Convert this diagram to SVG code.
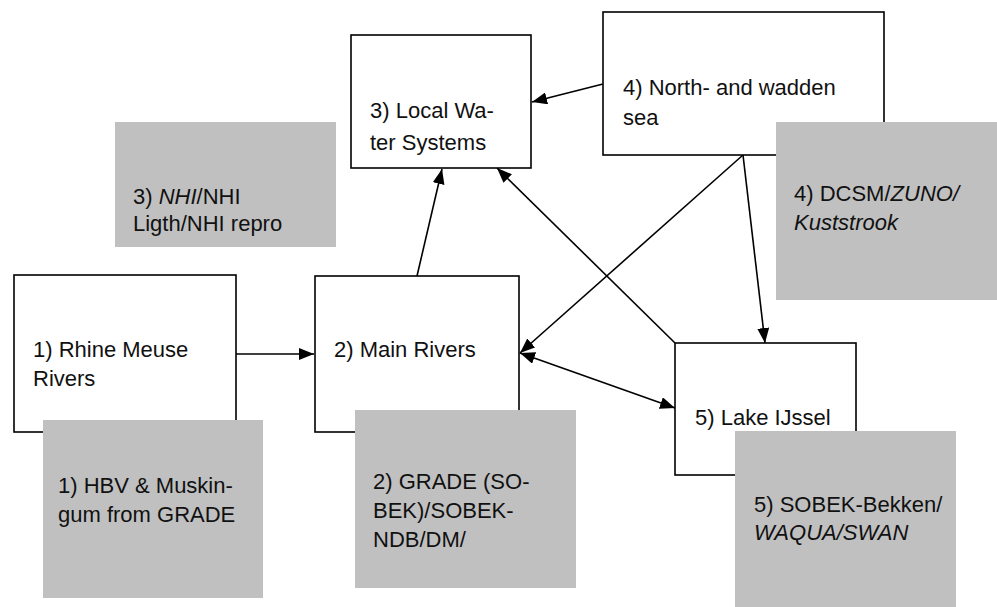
<svg xmlns="http://www.w3.org/2000/svg" width="997" height="607" viewBox="0 0 997 607">
<defs>
<style>
.box{fill:#ffffff;stroke:#000000;stroke-width:1.6}
.note{fill:#c0c0c0;stroke:none}
.t{font-family:"Liberation Sans",Arial,sans-serif;font-size:22px;fill:#111111}
.i{font-style:italic}
.c{fill:none;stroke:#000000;stroke-width:1.6}
</style>
<marker id="ah" markerUnits="userSpaceOnUse" markerWidth="16" markerHeight="12" viewBox="0 0 16 12" refX="15" refY="6" orient="auto-start-reverse">
<path d="M0,0 L15,6 L0,12 z" fill="#000000"/>
</marker>
</defs>
<rect width="997" height="607" fill="#ffffff"/>

<g id="connectors">
<path class="c" d="M236,354 L314,354" marker-end="url(#ah)"/>
<path class="c" d="M417,276 L442,169" marker-end="url(#ah)"/>
<path class="c" d="M603,84 L532,102" marker-end="url(#ah)"/>
<path class="c" d="M675,343 L497,168" marker-end="url(#ah)"/>
<path class="c" d="M743,155 L520,353" marker-end="url(#ah)"/>
<path class="c" d="M743,155 L765,343" marker-end="url(#ah)"/>
<path class="c" d="M520,353 L675,408" marker-start="url(#ah)" marker-end="url(#ah)"/>
</g>

<g id="node-local-water">
<rect class="box" x="351" y="35" width="180" height="133"/>
<text class="t" x="370" y="118">3) Local Wa-</text>
<text class="t" x="370" y="150">ter Systems</text>
</g>

<g id="node-north-sea">
<rect class="box" x="603" y="12" width="281" height="143"/>
<text class="t" x="623" y="95">4) North- and wadden</text>
<text class="t" x="623" y="125">sea</text>
</g>

<g id="node-rhine-meuse">
<rect class="box" x="14" y="275" width="222" height="157"/>
<text class="t" x="33" y="357">1) Rhine Meuse</text>
<text class="t" x="33" y="386">Rivers</text>
</g>

<g id="node-main-rivers">
<rect class="box" x="315" y="276" width="204" height="156"/>
<text class="t" x="334" y="357">2) Main Rivers</text>
</g>

<g id="node-lake-ijssel">
<rect class="box" x="675" y="343" width="181" height="132"/>
<text class="t" x="695" y="425">5) Lake IJssel</text>
</g>

<g id="note-nhi">
<rect class="note" x="115" y="122" width="221" height="125"/>
<text class="t" x="133" y="204">3) <tspan class="i">NHI</tspan>/NHI</text>
<text class="t" x="133" y="231">Ligth/NHI repro</text>
</g>

<g id="note-dcsm">
<rect class="note" x="776" y="122" width="221" height="178"/>
<text class="t" x="794" y="201">4) DCSM/<tspan class="i">ZUNO/</tspan></text>
<text class="t i" x="794" y="230">Kuststrook</text>
</g>

<g id="note-hbv">
<rect class="note" x="43" y="420" width="220" height="178"/>
<text class="t" x="58" y="493">1) HBV &amp; Muskin-</text>
<text class="t" x="58" y="522">gum from GRADE</text>
</g>

<g id="note-grade">
<rect class="note" x="355" y="410" width="221" height="178"/>
<text class="t" x="373" y="489">2) GRADE (SO-</text>
<text class="t" x="373" y="518">BEK)/SOBEK-</text>
<text class="t" x="373" y="547">NDB/DM/</text>
</g>

<g id="note-sobek">
<rect class="note" x="735" y="431" width="221" height="178"/>
<text class="t" x="754" y="512">5) SOBEK-Bekken/</text>
<text class="t i" x="754" y="540">WAQUA/SWAN</text>
</g>
</svg>
